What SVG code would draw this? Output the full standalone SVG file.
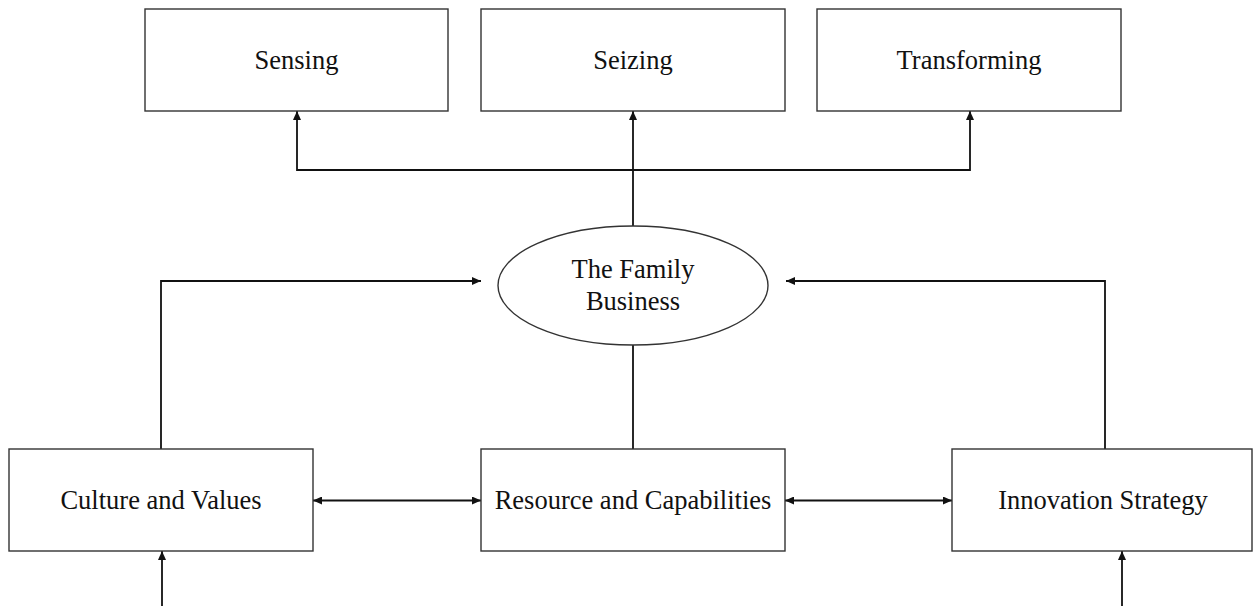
<svg xmlns="http://www.w3.org/2000/svg" width="1253" height="606" viewBox="0 0 1253 606">
<defs>
<style>
.box{fill:#fff;stroke:#333;stroke-width:1.4}
.lbl{font-family:"Liberation Serif","Times New Roman",serif;font-size:26.5px;fill:#111;text-anchor:middle}
.con{fill:none;stroke:#111;stroke-width:1.8}
</style>
<marker id="ah" viewBox="0 0 9 8" refX="9" refY="4" markerWidth="9" markerHeight="8" markerUnits="userSpaceOnUse" orient="auto-start-reverse">
<path d="M0,0 L9,4 L0,8 z" fill="#111"/>
</marker>
</defs>
<rect width="1253" height="606" fill="#fff"/>
<g id="connectors">
<path class="con" d="M633,226 V111" marker-end="url(#ah)"/>
<path class="con" d="M297,111 V170 H970 V111" marker-start="url(#ah)" marker-end="url(#ah)"/>
<path class="con" d="M161,449 V281 H481" marker-end="url(#ah)"/>
<path class="con" d="M1105,449 V281 H786" marker-end="url(#ah)"/>
<path class="con" d="M633,345 V449"/>
<path class="con" d="M313,500.5 H481" marker-start="url(#ah)" marker-end="url(#ah)"/>
<path class="con" d="M785,500.5 H952" marker-start="url(#ah)" marker-end="url(#ah)"/>
<path class="con" d="M162,606 V551" marker-end="url(#ah)"/>
<path class="con" d="M1122,606 V551" marker-end="url(#ah)"/>
</g>
<g id="sensing"><rect class="box" x="145" y="9" width="303" height="102"/><text class="lbl" x="296.5" y="69">Sensing</text></g>
<g id="seizing"><rect class="box" x="481" y="9" width="304" height="102"/><text class="lbl" x="633" y="69">Seizing</text></g>
<g id="transforming"><rect class="box" x="817" y="9" width="304" height="102"/><text class="lbl" x="969" y="69">Transforming</text></g>
<g id="family-business"><ellipse class="box" cx="633" cy="285.5" rx="135" ry="59.5"/><text class="lbl" x="633" y="277.5">The Family</text><text class="lbl" x="633" y="310">Business</text></g>
<g id="culture"><rect class="box" x="9" y="449" width="304" height="102"/><text class="lbl" x="161" y="509">Culture and Values</text></g>
<g id="resource"><rect class="box" x="481" y="449" width="304" height="102"/><text class="lbl" x="633" y="509">Resource and Capabilities</text></g>
<g id="innovation"><rect class="box" x="952" y="449" width="300" height="102"/><text class="lbl" x="1103" y="509">Innovation Strategy</text></g>
</svg>
